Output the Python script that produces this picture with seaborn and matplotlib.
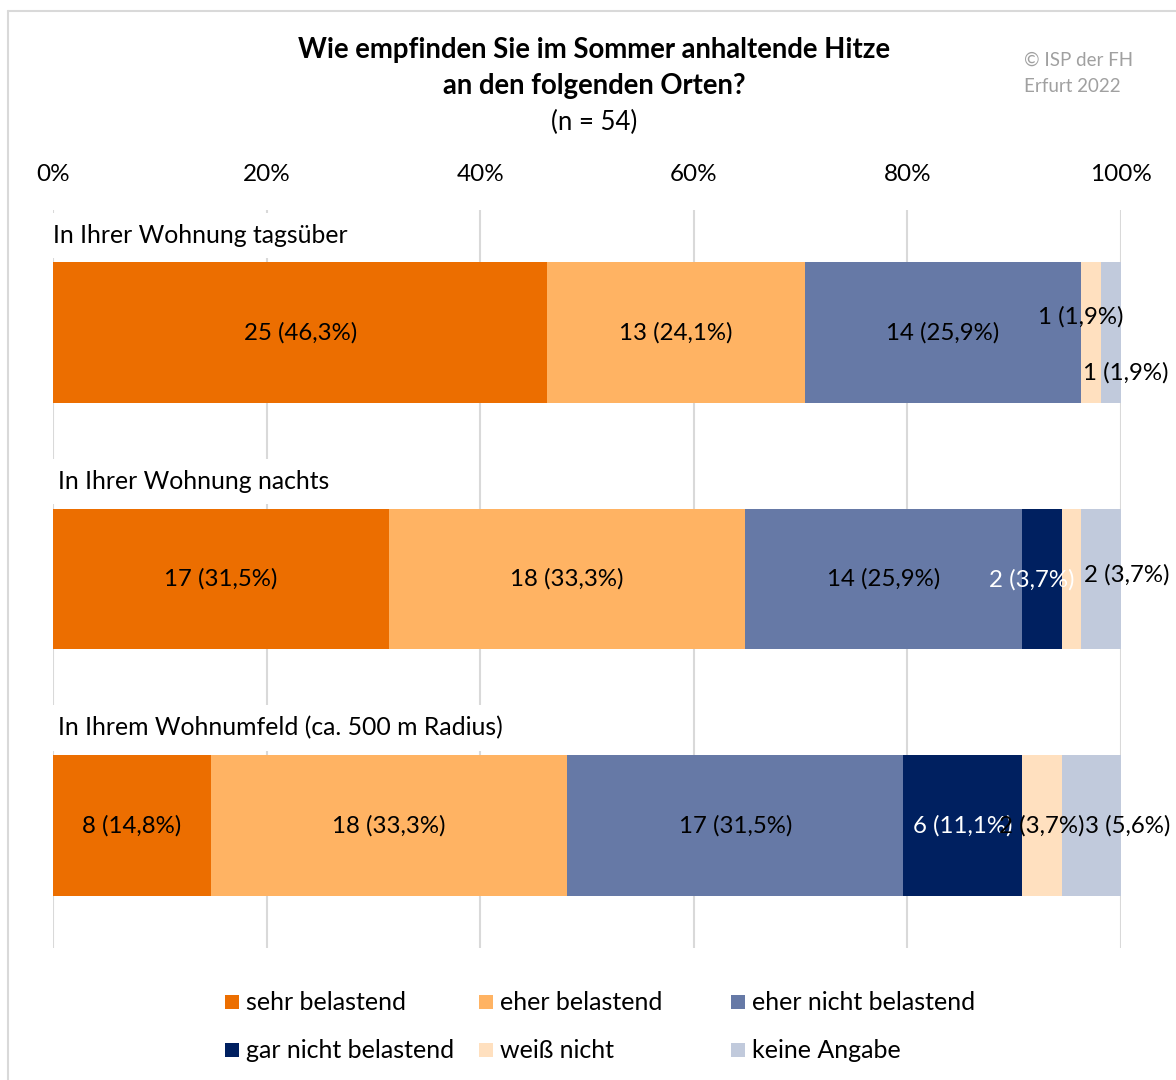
import numpy as np
import pandas as pd
import matplotlib
matplotlib.use("Agg")
import matplotlib.pyplot as plt
import seaborn as sns
from matplotlib.patches import Rectangle
from matplotlib.lines import Line2D

# ---------------- data ----------------
categories = ["In Ihrer Wohnung tagsüber",
              "In Ihrer Wohnung nachts",
              "In Ihrem Wohnumfeld (ca. 500 m Radius)"]
series = ["sehr belastend", "eher belastend", "eher nicht belastend",
          "gar nicht belastend", "weiß nicht", "keine Angabe"]
sehr_belastend = [25, 17, 8]
eher_belastend = [13, 18, 18]
eher_nicht_belastend = [14, 14, 17]
gar_nicht_belastend = [0, 2, 6]
weiss_nicht = [1, 1, 2]
keine_angabe = [1, 2, 3]
n_total = 54
tick_labels = ["0%", "20%", "40%", "60%", "80%", "100%"]

colors = ["#EC6E00", "#FFB363", "#6679A6", "#002060", "#FFE0BF", "#C1CADC"]
label_colors = ["black", "black", "black", "white", "black", "black"]

counts = np.array([sehr_belastend, eher_belastend, eher_nicht_belastend,
                   gar_nicht_belastend, weiss_nicht, keine_angabe], dtype=float)
frac = counts / n_total
cum = np.cumsum(frac, axis=0)

# ---------------- style ----------------
sns.set_theme(style="white")
FONT = ["Lato", "DejaVu Sans"]
plt.rcParams["font.family"] = FONT
plt.rcParams["text.color"] = "black"

fig = plt.figure(figsize=(11.76, 10.8), dpi=100)
W, H = 1176, 1080
ax = fig.add_axes([53 / W, 1 - 948 / H, 1068 / W, 738 / H])

# stacked bars: draw cumulative totals from the last series to the first
bar_h = 141 / 246.5
for k in range(len(series) - 1, -1, -1):
    df = pd.DataFrame({"Ort": categories, "wert": cum[k]})
    sns.barplot(data=df, x="wert", y="Ort", orient="h", color=colors[k],
                width=bar_h, saturation=1, ax=ax, zorder=2, linewidth=0)

ax.set_xlim(0, 1)
ax.set_ylim(2.497, -0.497)
ax.set_xticks(np.linspace(0, 1, 6))
ax.set_xticklabels(tick_labels)
ax.xaxis.tick_top()
ax.tick_params(axis="x", length=0, pad=18, labelsize=17.5, labelcolor="black")
ax.set_yticks([])
ax.set_xlabel("")
ax.set_ylabel("")
for s in ax.spines.values():
    s.set_visible(False)
ax.grid(axis="x", color="#D9D9D9", linewidth=1.5, zorder=0)
ax.set_axisbelow(True)

# category labels above the bars (white box hides the grid)
cat_dx = [0, 5, 5]
for i, c in enumerate(categories):
    ax.annotate(c, xy=(0, i - 0.395), xytext=(cat_dx[i], 0), textcoords="offset pixels",
                ha="left", va="center", fontsize=17.8, color="black", zorder=3,
                bbox=dict(boxstyle="square,pad=0.45", fc="white", ec="none"))

# data labels
offsets = {(0, 4): (-11, -16), (0, 5): (15, 40),
           (1, 3): (-10, 1), (1, 5): (26, -4),
           (2, 5): (36, 0)}
hidden = {(1, 4)}
for i in range(len(categories)):
    for k in range(len(series)):
        if counts[k, i] == 0 or (i, k) in hidden:
            continue
        left = cum[k, i] - frac[k, i]
        xc = left + frac[k, i] / 2
        pct = f"{frac[k, i] * 100:.1f}".replace(".", ",")
        txt = f"{int(counts[k, i])} ({pct}%)"
        dx, dy = offsets.get((i, k), (0, 0))
        ax.annotate(txt, xy=(xc, i), xytext=(dx, -dy), textcoords="offset pixels",
                    ha="center", va="center", fontsize=17.3,
                    color=label_colors[k], zorder=5)

# title
fig.text(594 / W, 1 - 50 / H, "Wie empfinden Sie im Sommer anhaltende Hitze",
         ha="center", va="center", fontsize=19.8, fontweight="bold", color="black")
fig.text(594 / W, 1 - 86 / H, "an den folgenden Orten?",
         ha="center", va="center", fontsize=19.8, fontweight="bold", color="black")
fig.text(594 / W, 1 - 122 / H, "(n = 54)", ha="center", va="center", fontsize=18.5,
         color="black")

# copyright
fig.text(1024 / W, 1 - 60 / H, "© ISP der FH", ha="left", va="center",
         fontsize=13.5, color="#A0A0A0")
fig.text(1024 / W, 1 - 86 / H, "Erfurt 2022", ha="left", va="center",
         fontsize=13.5, color="#A0A0A0")

# legend (row-major, 3 columns)
leg_x = [225, 479, 731]
leg_y = [1002, 1050]
for k, name in enumerate(series):
    r, c = divmod(k, 3)
    x0, yc = leg_x[c], leg_y[r]
    fig.patches.append(Rectangle((x0 / W, 1 - (yc + 7) / H), 14 / W, 14 / H,
                                 transform=fig.transFigure, fc=colors[k], ec="none"))
    fig.text((x0 + 21) / W, 1 - yc / H, name, ha="left", va="center",
             fontsize=18, color="black")

# chart frame (top + left visible)
fig.lines.append(Line2D([7.5 / W, 1], [1 - 10.5 / H, 1 - 10.5 / H],
                        transform=fig.transFigure, color="#D9D9D9", lw=1.5))
fig.lines.append(Line2D([7.5 / W, 7.5 / W], [0, 1 - 10.5 / H],
                        transform=fig.transFigure, color="#D9D9D9", lw=1.5))

fig.savefig("out.png", dpi=100)
